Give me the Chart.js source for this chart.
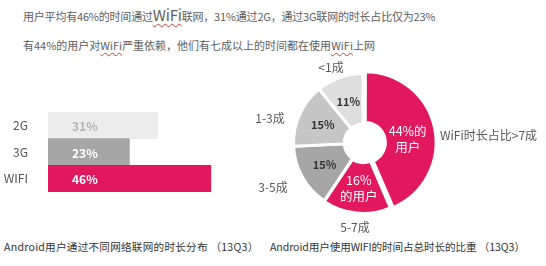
<!DOCTYPE html>
<html><head><meta charset="utf-8">
<script src="https://cdn.jsdelivr.net/npm/chart.js@4.4.1/dist/chart.umd.min.js"></script>
<style>
html,body{margin:0;padding:0;background:#fff;}
body{width:546px;height:266px;position:relative;overflow:hidden;font-family:"Noto Sans CJK SC","Noto Sans",sans-serif;}
.t{position:absolute;white-space:nowrap;color:#5e5e5e;font-size:11px;line-height:14px;}
.w{text-decoration:underline wavy #d83a3a;text-decoration-thickness:1px;text-underline-offset:2px;}
.big{font-size:15px;}
.cap{position:absolute;white-space:nowrap;color:#333;font-size:10.6px;line-height:14px;}
.ol{position:absolute;white-space:nowrap;color:#595959;font-size:12px;line-height:14px;}
canvas{position:absolute;}
</style></head>
<body>
<div class="t" style="left:23px;top:8px;letter-spacing:-0.2px;">用户平均有46%的时间通过<span class="big w">WiFi</span>联网，31%通过2G，通过3G联网的时长占比仅为23%</div>
<div class="t" style="left:23px;top:38px;">有44%的用户对<span class="w">WiFi</span>严重依赖，他们有七成以上的时间都在使用<span class="w">WiFi</span>上网</div>
<canvas id="bar" width="225" height="80" style="left:0;top:112px;width:225px;height:80px;"></canvas>
<canvas id="pie" width="234" height="180" style="left:246px;top:53px;width:234px;height:180px;"></canvas>
<div id="outer"></div>
<div class="cap" style="left:4px;top:240px;letter-spacing:0.25px;">Android用户通过不同网络联网的时长分布 （13Q3）</div>
<div class="cap" style="left:270px;top:240px;letter-spacing:-0.1px;">Android用户使用WIFI的时间占总时长的比重 （13Q3）</div>
<script>
// ---- data ----
const networks = ['2G', '3G', 'WIFI'];
const networkShares = [31, 23, 46];
const wifiBands = ['WiFi时长占比>7成', '5-7成', '3-5成', '1-3成', '<1成'];
const userShares = [44, 16, 15, 15, 11];
const innerTemplates = ['{v}%的\n用户', '{v}%\n的用户', '{v}%', '{v}%', '{v}%'];

const FONT = '"Noto Sans CJK SC","Noto Sans",sans-serif';
const PINK = '#e2185f';

// ---- bar chart ----
const barLabelPlugin = {
  id: 'barLabels',
  afterDatasetsDraw(chart) {
    const ctx = chart.ctx;
    const meta = chart.getDatasetMeta(0);
    const colors = ['#b3b3b3', '#ffffff', '#ffffff'];
    ctx.save();
    ctx.font = 'bold 12px ' + FONT;
    ctx.textBaseline = 'middle';
    ctx.textAlign = 'left';
    meta.data.forEach((bar, i) => {
      ctx.fillStyle = colors[i];
      ctx.fillText(networkShares[i] + '%', bar.base + 24, bar.y + 1);
    });
    ctx.restore();
  }
};
new Chart(document.getElementById('bar'), {
  type: 'bar',
  data: { labels: networks, datasets: [{ data: networkShares,
    backgroundColor: ['#ececec', '#a6a6a6', PINK], borderWidth: 0,
    barPercentage: 1, categoryPercentage: 1 }] },
  options: {
    indexAxis: 'y', responsive: false, maintainAspectRatio: false, animation: false, events: [],
    layout: { padding: 0 },
    plugins: { legend: { display: false }, tooltip: { enabled: false } },
    scales: {
      x: { display: false, min: 0, max: 50 },
      y: { grid: { display: false }, border: { display: false },
           ticks: { color: '#555', font: { size: 12, family: FONT }, padding: 12 },
           afterFit(s) { s.width = 48; s.paddingTop = 0; s.paddingBottom = 0; } }
    }
  },
  plugins: [barLabelPlugin]
});

// ---- doughnut ----
const innerLabelPlugin = {
  id: 'innerLabels',
  afterDatasetsDraw(chart) {
    const ctx = chart.ctx;
    const meta = chart.getDatasetMeta(0);
    ctx.save();
    ctx.textAlign = 'center';
    ctx.textBaseline = 'middle';
    meta.data.forEach((arc, i) => {
      const p = arc.getCenterPoint();
      const lines = innerTemplates[i].replace('{v}', userShares[i]).split('\n');
      const pink = i < 2;
      ctx.fillStyle = pink ? '#ffffff' : '#333333';
      ctx.font = (pink ? '' : 'bold ') + (pink ? '12.5px ' : '11px ') + FONT;
      const lh = 16;
      let y = p.y - (lines.length - 1) * lh / 2;
      let x = p.x;
      if (i === 0) { y += 6; x -= 3; }
      lines.forEach((ln, k) => ctx.fillText(ln, x, y + k * lh));
    });
    ctx.restore();
  }
};
new Chart(document.getElementById('pie'), {
  type: 'doughnut',
  data: { labels: wifiBands, datasets: [{ data: userShares,
    backgroundColor: [PINK, PINK, '#a6a6a6', '#c6c6c6', '#dedede'],
    borderColor: '#ffffff', borderWidth: 3, offset: [9, 3, 0, 0, 0] }] },
  options: {
    responsive: false, maintainAspectRatio: false, animation: false, events: [],
    radius: 69.5, cutout: '27%',
    plugins: { legend: { display: false }, tooltip: { enabled: false } }
  },
  plugins: [innerLabelPlugin]
});

// outer category labels (positions in page px: center x / left, center y)
const outerPos = [[440, 135, 'left'], [355, 227, 'c'], [273, 187, 'c'], [270, 118, 'c'], [331, 67, 'c']];
const outer = document.getElementById('outer');
wifiBands.forEach((lab, i) => {
  const d = document.createElement('div');
  d.className = 'ol';
  d.textContent = lab;
  const [x, y, a] = outerPos[i];
  d.style.top = (y - 7) + 'px';
  d.style.left = x + 'px';
  if (a !== 'left') d.style.transform = 'translateX(-50%)';
  outer.appendChild(d);
});
</script>
</body></html>
